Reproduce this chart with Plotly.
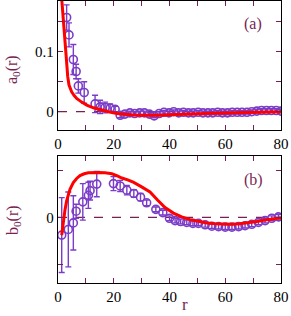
import plotly.graph_objects as go
from plotly.subplots import make_subplots

# ---- data: panel (a) ----
r_a = [3.1, 3.95, 5.5, 6.5, 7.3, 9.4, 13.3, 15.1, 16.9, 18.7, 20.5, 22.3, 24.0, 25.8, 27.5,
       29.3, 31.0, 32.8, 34.5, 36.3, 38.0, 39.8, 41.5, 43.3, 45.0, 46.8, 48.5, 50.3, 52.0,
       53.8, 55.5, 57.3, 59.0, 60.8, 62.5, 64.3, 66.0, 67.8, 69.5, 71.3, 73.0, 74.8, 76.5,
       78.3, 80.0]
a0 = [0.157, 0.128, 0.087, 0.067, 0.043, 0.032, 0.013, 0.008, 0.007, 0.006, 0.004, -0.006,
      -0.004, -0.002, -0.003, -0.002, -0.002, -0.004, -0.007, -0.003, -0.001, -0.002, 0.000,
      -0.002, -0.001, -0.002, -0.002, -0.001, -0.002, -0.002, -0.002, -0.001, -0.002, -0.002,
      -0.001, -0.001, -0.001, -0.001, 0.000, 0.001, 0.002, 0.002, 0.002, 0.002, 0.001]
a0_err = [0.021, 0.02, 0.025, 0.012, 0.012, 0.018, 0.0145, 0.011, 0.009, 0.007, 0.005, 0.004,
          0.003, 0.003, 0.003, 0.003, 0.003, 0.003, 0.003, 0.003, 0.003, 0.003, 0.003, 0.003,
          0.003, 0.003, 0.003, 0.003, 0.003, 0.003, 0.003, 0.003, 0.003, 0.003, 0.003, 0.003,
          0.003, 0.003, 0.003, 0.003, 0.003, 0.003, 0.003, 0.003, 0.003]
r_fit_a = [1.3, 1.6, 1.9, 2.2, 2.5, 2.8, 3.1, 3.5, 3.95, 4.4, 4.9, 5.8, 6.7, 8.5, 10.3, 12.7,
           15.1, 18.1, 21.1, 24, 27, 30, 33, 36.5, 40, 45, 50, 55, 60, 65, 70, 75, 80]
a_fit = [0.19, 0.17, 0.153, 0.133, 0.114, 0.094, 0.075, 0.058, 0.0445, 0.038, 0.033, 0.027,
         0.022, 0.016, 0.011, 0.0065, 0.003, -0.0002, -0.003, -0.0045, -0.0055, -0.006,
         -0.0063, -0.006, -0.0052, -0.004, -0.003, -0.0025, -0.002, -0.0015, -0.001, -0.0005, 0.0]

# ---- data: panel (b) ----
r_b = [1.33, 3.7, 5.5, 6.5, 8.9, 10.9, 11.5, 13.9, 19.9, 22.3, 24.7, 27.2, 29.6, 31.8, 35.1,
       37.6, 40.0, 42.0, 44.0, 46.2, 48.4, 50.4, 52.8, 55.2, 57.6, 60.0, 62.4, 64.8, 67.1,
       69.5, 71.9, 74.3, 76.7, 79.1]
b0 = [-0.0038, -0.0026, -0.0012, 0.0013, 0.0033, 0.0047, 0.0057, 0.0071, 0.0072, 0.0067,
      0.0058, 0.0051, 0.0043, 0.0031, 0.0017, 0.001, -0.0002, -0.0007, -0.0009, -0.0011,
      -0.0013, -0.0013, -0.0016, -0.0019, -0.002, -0.0021, -0.0021, -0.002, -0.0018,
      -0.0015, -0.0011, -0.0007, -0.0002, 0.0001]
b0_err = [0.008, 0.008, 0.0058, 0.0015, 0.0039, 0.0028, 0.002, 0.0027, 0.0015, 0.0012, 0.001,
          0.0008, 0.0008, 0.0006, 0.0005, 0.0005, 0.0005, 0.0005, 0.0005, 0.0005, 0.0005,
          0.0005, 0.0005, 0.0005, 0.0005, 0.0005, 0.0005, 0.0005, 0.0005, 0.0005, 0.0005,
          0.0005, 0.0005, 0.0005]
r_fit_b = [1.33, 1.9, 2.5, 3.1, 3.7, 4.3, 5.5, 6.7, 7.9, 9.4, 10.9, 12.7, 14.5, 16.9, 19.3,
           21.1, 22.9, 25, 27, 30, 33, 35.7, 38.4, 41.4, 44.4, 47.4, 50.4, 53.4, 56.4, 59.4,
           62.4, 65.3, 68.3, 71.3, 75.2, 79.1, 80]
b_fit = [-0.0038, -0.0009, 0.00155, 0.0035, 0.0051, 0.0060, 0.0074, 0.0083, 0.0089, 0.0093,
         0.0095, 0.0096, 0.0096, 0.0095, 0.0093, 0.0089, 0.0084, 0.0080, 0.0075, 0.0065,
         0.0054, 0.0037, 0.0021, 0.0009, 0.0001, -0.0005, -0.0009, -0.0012, -0.0014, -0.0015,
         -0.0015, -0.0014, -0.0012, -0.0009, -0.0005, -0.0002, -0.0001]

x_dtick, x_minor = 20, 10
ya_dtick, ya_minor = 0.1, 0.05
yb_ticks, yb_minor = [0], 0.01

PURPLE = '#7b3cc8'
MAROON = '#7a1f55'
RED = '#ff0000'
SERIF = 'Liberation Serif, Times New Roman, serif'

fig = make_subplots(rows=2, cols=1, vertical_spacing=0.0)

def add_panel(row, rx, y, err, rf, yf):
    fig.add_trace(go.Scatter(x=[0, 80], y=[0, 0], mode='lines',
                             line=dict(color=MAROON, width=1.2, dash='dash'),
                             showlegend=False, hoverinfo='skip'), row=row, col=1)
    fig.add_trace(go.Scatter(x=rx, y=y, mode='markers',
                             marker=dict(symbol='circle-open', size=8,
                                         color=PURPLE, line=dict(width=1.6, color=PURPLE)),
                             error_y=dict(type='data', array=err, color=PURPLE,
                                          thickness=1.4, width=3),
                             showlegend=False), row=row, col=1)
    fig.add_trace(go.Scatter(x=rf, y=yf, mode='lines', line=dict(color=RED, width=3),
                             showlegend=False), row=row, col=1)

add_panel(1, r_a, a0, a0_err, r_fit_a, a_fit)
add_panel(2, r_b, b0, b0_err, r_fit_b, b_fit)

axis_common = dict(showline=True, linecolor='black', linewidth=1.3, mirror='ticks',
                   ticks='inside', ticklen=5, tickcolor=MAROON, tickwidth=1.3,
                   showgrid=False, zeroline=False,
                   tickfont=dict(family=SERIF, size=15, color='black'))
minor_common = dict(ticks='inside', ticklen=5, tickcolor=MAROON, tickwidth=1.3, showgrid=False)

W, H = 291, 316
ml, mr, mt, mb = 58, 10, 1, 33
ph = H - mt - mb
top_px_bottom = 130
bot_px_top = 156
dom_a = [(H - mb - top_px_bottom) / ph, 1.0]
dom_b = [0.0, (H - mb - bot_px_top) / ph]

fig.update_xaxes(range=[0, 80], tick0=0, dtick=x_dtick,
                 minor=dict(dtick=x_minor, **minor_common), **axis_common)
fig.update_yaxes(**axis_common)
fig.update_yaxes(range=[-0.0305, 0.1845], tick0=0, dtick=ya_dtick,
                 minor=dict(dtick=ya_minor, tick0=0, **minor_common),
                 domain=dom_a, row=1, col=1)
fig.update_yaxes(range=[-0.01404, 0.0131], tickmode='array', tickvals=yb_ticks,
                 minor=dict(tickmode='linear', tick0=0, dtick=yb_minor, **minor_common),
                 domain=dom_b, row=2, col=1)
fig.update_xaxes(showticklabels=True, row=1, col=1)

ann_font = dict(family=SERIF, size=16, color=MAROON)

def py(px):
    return (H - mb - px) / ph

def px_x(px):
    return (px - ml) / (W - ml - mr)

fig.update_layout(
    width=W, height=H, margin=dict(l=ml, r=mr, t=mt, b=mb),
    paper_bgcolor='white', plot_bgcolor='white',
    annotations=[
        dict(text='a<sub>0</sub>(r)', textangle=-90, xref='paper', yref='paper',
             x=px_x(13), y=py(70), showarrow=False, font=ann_font,
             xanchor='center', yanchor='middle'),
        dict(text='b<sub>0</sub>(r)', textangle=-90, xref='paper', yref='paper',
             x=px_x(13), y=py(220), showarrow=False, font=ann_font,
             xanchor='center', yanchor='middle'),
        dict(text='(a)', xref='paper', yref='paper', x=px_x(253), y=py(24),
             showarrow=False, font=ann_font, xanchor='center', yanchor='middle'),
        dict(text='(b)', xref='paper', yref='paper', x=px_x(253), y=py(180),
             showarrow=False, font=ann_font, xanchor='center', yanchor='middle'),
        dict(text='r', xref='paper', yref='paper', x=px_x(185), y=py(304),
             showarrow=False, font=dict(family=SERIF, size=17, color=MAROON),
             xanchor='center', yanchor='middle'),
    ],
)

fig.write_html('out.html', config={'displayModeBar': False},
               post_script="document.body.style.margin='0';document.body.style.overflow='hidden';")
